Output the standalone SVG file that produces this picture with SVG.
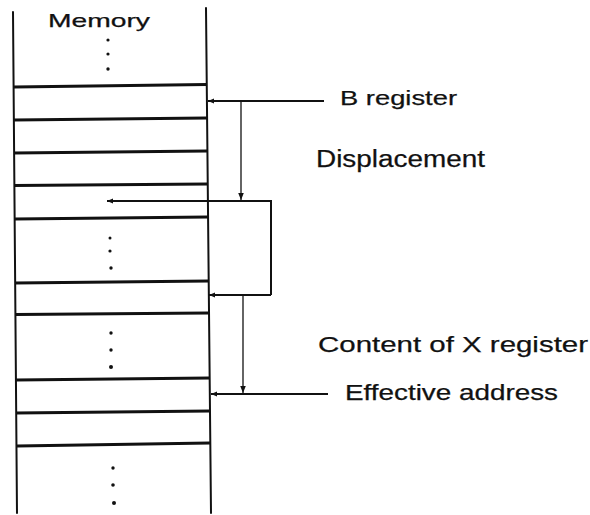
<svg xmlns="http://www.w3.org/2000/svg" width="590" height="515" viewBox="0 0 590 515">
<style>
.txt{font-family:"Liberation Sans","DejaVu Sans",Arial,sans-serif;fill:#111;stroke:#111;stroke-width:0.25;}
.border{stroke:#111;stroke-width:2;fill:none;stroke-linecap:round;}
.cell{stroke:#111;stroke-width:3;fill:none;}
.conn{stroke:#111;stroke-width:2;fill:none;}
.thin{stroke:#111;stroke-width:1.3;fill:none;}
.dot{fill:#111;}
</style>
<defs>
<marker id="arrL" viewBox="0 0 10 10" refX="10" refY="5" markerWidth="9" markerHeight="6" orient="auto" markerUnits="userSpaceOnUse">
<path d="M0,1 L10,5 L0,9 Z" fill="#111"/>
</marker>
<marker id="arrD" viewBox="0 0 10 10" refX="10" refY="5" markerWidth="9" markerHeight="7" orient="auto" markerUnits="userSpaceOnUse">
<path d="M0,1 L10,5 L0,9 Z" fill="#111"/>
</marker>
</defs>
<rect width="590" height="515" fill="#fff"/>
<g id="memory">
<text class="txt" x="48" y="27" font-size="19" textLength="102" lengthAdjust="spacingAndGlyphs">Memory</text>
<line class="border" x1="13" y1="12" x2="17" y2="513"/>
<line class="border" x1="206" y1="8" x2="211" y2="513"/>
<line class="cell" x1="14" y1="87" x2="207" y2="84.5"/>
<line class="cell" x1="14" y1="120" x2="207" y2="118"/>
<line class="cell" x1="14" y1="153" x2="207" y2="151"/>
<line class="cell" x1="14" y1="185.5" x2="208" y2="184"/>
<line class="cell" x1="15" y1="219" x2="208" y2="217"/>
<line class="cell" x1="15" y1="283" x2="209" y2="281"/>
<line class="cell" x1="16" y1="314.5" x2="209" y2="313"/>
<line class="cell" x1="16" y1="380" x2="210" y2="378"/>
<line class="cell" x1="16" y1="413" x2="210" y2="411"/>
<line class="cell" x1="17" y1="446" x2="210" y2="443"/>
<circle class="dot" cx="108" cy="40" r="1.6"/>
<circle class="dot" cx="108" cy="54" r="1.6"/>
<circle class="dot" cx="108" cy="69" r="1.7"/>
<circle class="dot" cx="110" cy="238" r="1.5"/>
<circle class="dot" cx="110" cy="251" r="1.6"/>
<circle class="dot" cx="111" cy="268" r="1.7"/>
<circle class="dot" cx="111" cy="333" r="1.7"/>
<circle class="dot" cx="111" cy="350" r="1.7"/>
<circle class="dot" cx="111" cy="367" r="2"/>
<circle class="dot" cx="113" cy="468" r="1.7"/>
<circle class="dot" cx="113" cy="485" r="1.8"/>
<circle class="dot" cx="114" cy="503" r="2"/>
</g>
<g id="label-b-register">
<text class="txt" x="340" y="105" font-size="21" textLength="117" lengthAdjust="spacingAndGlyphs">B register</text>
</g>
<g id="label-displacement">
<text class="txt" x="316" y="167" font-size="23" textLength="169" lengthAdjust="spacingAndGlyphs">Displacement</text>
</g>
<g id="label-content-x">
<text class="txt" x="318" y="352" font-size="22" textLength="270" lengthAdjust="spacingAndGlyphs">Content of X register</text>
</g>
<g id="label-effective">
<text class="txt" x="345" y="400" font-size="22" textLength="213" lengthAdjust="spacingAndGlyphs">Effective address</text>
</g>
<g id="connectors">
<line class="conn" x1="324" y1="101" x2="208" y2="101" marker-end="url(#arrL)"/>
<line class="thin" x1="241" y1="102" x2="241" y2="200" marker-end="url(#arrD)"/>
<polyline class="conn" points="271,295 271,201 107,201" marker-end="url(#arrL)"/>
<line class="conn" x1="271" y1="295" x2="209" y2="295" marker-end="url(#arrL)"/>
<line class="thin" x1="243" y1="296" x2="243" y2="393" marker-end="url(#arrD)"/>
<line class="conn" x1="328" y1="394" x2="211" y2="394" marker-end="url(#arrL)"/>
</g>
</svg>
